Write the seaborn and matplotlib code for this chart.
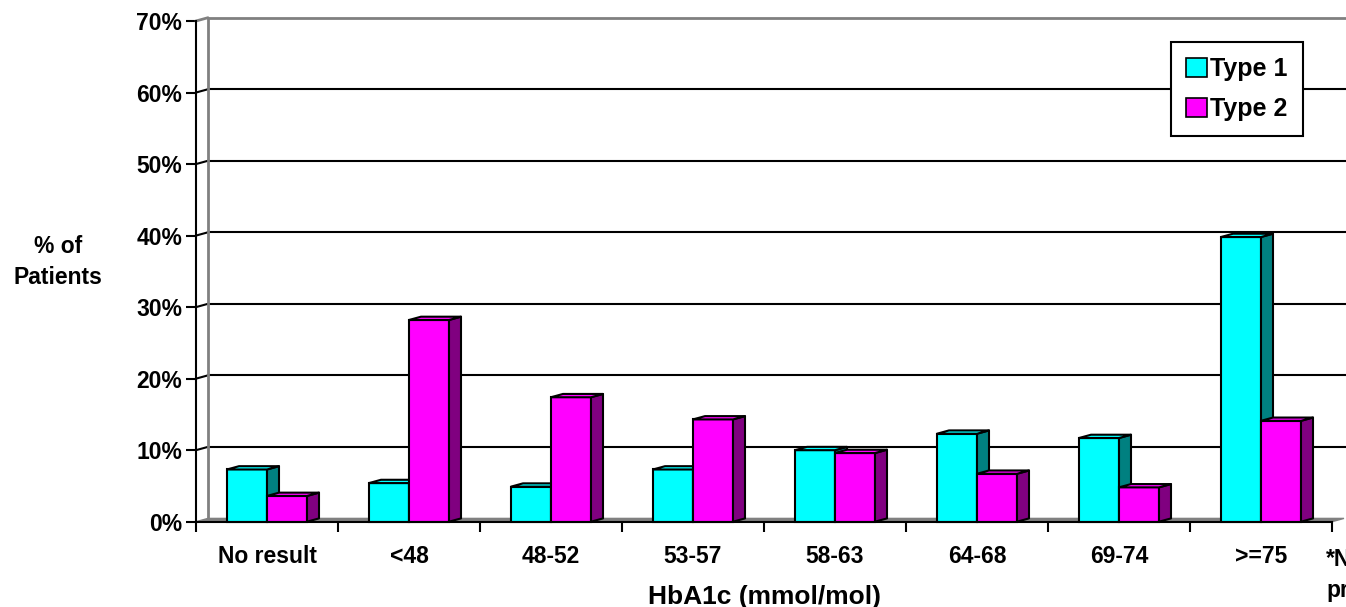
import numpy as np
import pandas as pd
import matplotlib
matplotlib.use("Agg")
import matplotlib.pyplot as plt
from matplotlib.patches import Polygon
import seaborn as sns

categories = ["No result", "<48", "48-52", "53-57", "58-63", "64-68", "69-74", ">=75"]
type1 = [7.3, 5.4, 4.9, 7.3, 10.0, 12.3, 11.7, 39.8]
type2 = [3.6, 28.2, 17.4, 14.3, 9.6, 6.7, 4.8, 14.1]
series = ["Type 1", "Type 2"]
yticks = [0, 10, 20, 30, 40, 50, 60, 70]
ytick_labels = ["0%", "10%", "20%", "30%", "40%", "50%", "60%", "70%"]
xlabel = "HbA1c (mmol/mol)"
ylabel = "% of\nPatients"
footnote = "*Not\nprovided"

front_colors = {"Type 1": "#00FFFF", "Type 2": "#FF00FF"}
side_colors = {"Type 1": "#008080", "Type 2": "#800080"}

df = pd.DataFrame({
    "HbA1c": categories * 2,
    "Percent": type1 + type2,
    "Type": [series[0]] * len(categories) + [series[1]] * len(categories),
})

sns.set_style("white")
plt.rcParams["font.family"] = ["Liberation Sans", "DejaVu Sans"]
plt.rcParams["font.weight"] = "bold"
plt.rcParams["text.color"] = "black"
plt.rcParams["xtick.color"] = "black"
plt.rcParams["ytick.color"] = "black"
plt.rcParams["axes.labelcolor"] = "black"

W, H = 1346, 607
fig = plt.figure(figsize=(W / 100, H / 100), dpi=100)
left_px, right_px, top_px, bot_px = 196, 1332, 21, 521.7
ax = fig.add_axes([left_px / W, 1 - bot_px / H, (right_px - left_px) / W, (bot_px - top_px) / H])

lw = 1.5
sns.barplot(data=df, x="HbA1c", y="Percent", hue="Type", palette=front_colors,
            width=0.5634, saturation=1, edgecolor="black", linewidth=lw,
            ax=ax, legend=True)

ax.set_xlim(-0.5, 7.5)
ax.set_ylim(0, 70)

dx = 12 / 142.0
dy = 3.3 / 7.15

# Floor
floor = Polygon([(-0.5, 0), (7.5, 0), (7.5 + dx, dy), (-0.5 + dx, dy)], closed=True,
                facecolor="#808080", edgecolor="#808080", lw=1, zorder=1, clip_on=False)
ax.add_patch(floor)

# back wall gridlines
for v in yticks[1:-1]:
    ax.plot([-0.5 + dx, 7.5 + dx + 0.02], [v + dy, v + dy], color="black", lw=lw, zorder=1.5, clip_on=False)
    ax.plot([-0.5, -0.5 + dx], [v, v + dy], color="black", lw=lw, zorder=1.5, clip_on=False)
# top edge and left back edge (grey)
ax.plot([-0.5 + dx, 7.5 + dx + 0.02], [70 + dy, 70 + dy], color="#808080", lw=2, zorder=1.5, clip_on=False)
ax.plot([-0.5, -0.5 + dx], [70, 70 + dy], color="#808080", lw=2, zorder=1.5, clip_on=False)
ax.plot([-0.5 + dx, -0.5 + dx], [dy, 70 + dy], color="#808080", lw=2, zorder=1.5, clip_on=False)

# 3D faces for each bar (from the bars drawn by seaborn)
bar_patches = [p for p in ax.patches if p is not floor and p.get_height() > 0]
for p in bar_patches:
    fc = matplotlib.colors.to_hex(p.get_facecolor())
    key = "Type 1" if fc.lower() == "#00ffff" else "Type 2"
    z = 3 if key == "Type 1" else 4
    p.set_zorder(z)
    p.set_clip_on(False)
    x0 = p.get_x()
    w = p.get_width()
    h = p.get_height()
    x1 = x0 + w
    side = Polygon([(x1, 0), (x1 + dx, dy), (x1 + dx, h + dy), (x1, h)], closed=True,
                   facecolor=side_colors[key], edgecolor="black", lw=lw, zorder=z, clip_on=False,
                   joinstyle="round")
    top = Polygon([(x0, h), (x1, h), (x1 + dx, h + dy), (x0 + dx, h + dy)], closed=True,
                  facecolor=front_colors[key], edgecolor="black", lw=lw, zorder=z, clip_on=False,
                  joinstyle="round")
    ax.add_patch(side)
    ax.add_patch(top)

# spines and ticks
for s in ["top", "right"]:
    ax.spines[s].set_visible(False)
for s in ["left", "bottom"]:
    ax.spines[s].set_color("black")
    ax.spines[s].set_linewidth(lw)
    ax.spines[s].set_zorder(5)

ax.set_yticks(yticks)
ax.set_yticklabels(ytick_labels, fontsize=16.5, fontweight="bold", color="black")
ax.tick_params(axis="y", direction="out", length=7, width=lw, color="black", pad=3, left=True)

ax.set_xticks(range(len(categories)))
ax.set_xticklabels(categories, fontsize=16.5, fontweight="bold", color="black")
ax.set_xticks(np.arange(-0.5, len(categories), 1.0), minor=True)
ax.tick_params(axis="x", which="major", length=0, pad=17)
ax.tick_params(axis="x", which="minor", direction="out", length=7, width=lw, color="black", bottom=True)
ax.set_xlabel("")
ax.set_ylabel("")
ax.grid(False)

fig.text(765 / W, 1 - 597 / H, xlabel, ha="center", va="center", fontsize=19, fontweight="bold",
         color="black")
fig.text(58 / W, 1 - 262 / H, ylabel, ha="center", va="center", fontsize=16.5, fontweight="bold",
         linespacing=1.45, color="black")
fig.text(1326 / W, 1 - 575 / H, footnote, ha="left", va="center", fontsize=16.5, fontweight="bold",
         linespacing=1.5, color="black")

# legend
handles, labels = ax.get_legend_handles_labels()
if ax.get_legend() is not None:
    ax.get_legend().remove()
leg = ax.legend(handles, labels, loc="upper right", bbox_to_anchor=(1303 / W, 1 - 42 / H),
                bbox_transform=fig.transFigure, borderaxespad=0, frameon=True, fancybox=False,
                prop={"size": 18, "weight": "bold"}, handlelength=0.85, handleheight=0.8,
                handletextpad=0.15, labelspacing=0.65, borderpad=0.6)
leg.get_frame().set_edgecolor("black")
leg.get_frame().set_linewidth(lw)
leg.get_frame().set_facecolor("white")
leg.get_frame().set_alpha(1)
leg.set_zorder(10)
for t in leg.get_texts():
    t.set_color("black")
for h in leg.legend_handles:
    h.set_edgecolor("black")
    h.set_linewidth(1.2)

fig.savefig("out.png", dpi=100)
